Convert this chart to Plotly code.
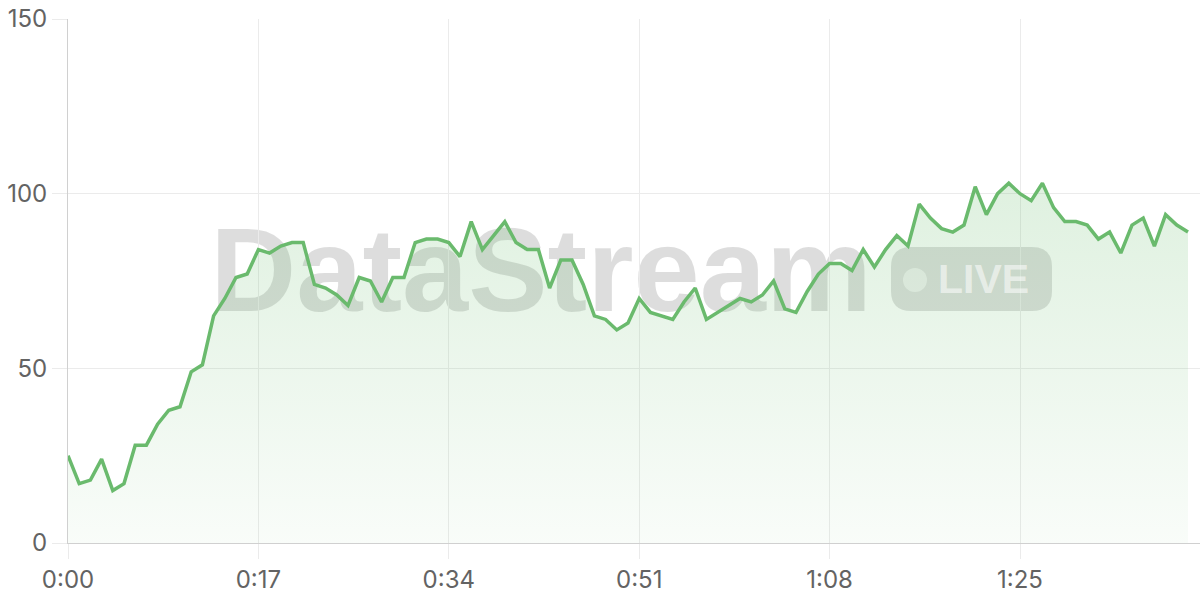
import plotly.graph_objects as go

# Data: one value per second, 0..100 s
seconds = list(range(101))
values = [
    25, 17, 18, 24, 15, 17, 28, 28, 34, 38,
    39, 49, 51, 65, 70, 76, 77, 84, 83, 85,
    86, 86, 74, 73, 71, 68, 76, 75, 69, 76,
    76, 86, 87, 87, 86, 82, 92, 84, 88, 92,
    86, 84, 84, 73, 81, 81, 74, 65, 64, 61,
    63, 70, 66, 65, 64, 69, 73, 64, 66, 68,
    70, 69, 71, 75, 67, 66, 72, 77, 80, 80,
    78, 84, 79, 84, 88, 85, 97, 93, 90, 89,
    91, 102, 94, 100, 103, 100, 98, 103, 96, 92,
    92, 91, 87, 89, 83, 91, 93, 85, 94, 91,
    89,
]
tick_vals = [0, 17, 34, 51, 68, 85]
tick_text = ["0:00", "0:17", "0:34", "0:51", "1:08", "1:25"]
y_ticks = [0, 50, 100, 150]

GREEN = "#6aba6d"
GRID = "#ebebeb"
AXIS = "#d0d0d0"
LABEL = "#636363"
FONT = "Inter, 'Noto Sans', sans-serif"
TICK_SIZE = 24

W, H = 1200, 600
ML, MR, MT, MB = 68, 0, 19, 57
PW, PH = W - ML - MR, H - MT - MB


def px(x):
    return (x - ML) / PW


def py(y):
    return (H - MB - y) / PH


def rounded_rect(x0, y0, x1, y1, r):
    # pixel coords -> paper-coordinate SVG path with rounded corners
    pts = [
        f"M{px(x0 + r)},{py(y0)}",
        f"L{px(x1 - r)},{py(y0)}",
        f"Q{px(x1)},{py(y0)} {px(x1)},{py(y0 + r)}",
        f"L{px(x1)},{py(y1 - r)}",
        f"Q{px(x1)},{py(y1)} {px(x1 - r)},{py(y1)}",
        f"L{px(x0 + r)},{py(y1)}",
        f"Q{px(x0)},{py(y1)} {px(x0)},{py(y1 - r)}",
        f"L{px(x0)},{py(y0 + r)}",
        f"Q{px(x0)},{py(y0)} {px(x0 + r)},{py(y0)}",
        "Z",
    ]
    return " ".join(pts)


fig = go.Figure()
fig.add_trace(go.Scatter(
    x=seconds, y=values, mode="lines",
    line=dict(color=GREEN, width=3.5),
    fill="tozeroy",
    fillgradient=dict(
        type="vertical",
        colorscale=[[0, "rgba(102,187,106,0.04)"], [1, "rgba(102,187,106,0.21)"]],
    ),
    hoverinfo="skip",
))

# Watermark (drawn between gridlines and traces)
fig.add_shape(
    type="rect", xref="paper", yref="paper",
    x0=px(541) - 0.3, x1=px(541) + 0.3, y0=0.542 - 0.12, y1=0.542 + 0.12,
    line=dict(width=0), fillcolor="rgba(0,0,0,0)",
    layer="between",
    label=dict(text="DataStream",
               font=dict(family="'Liberation Sans', Arial, sans-serif", size=119,
                         color="rgba(0,0,0,0.135)", weight=700),
               textposition="middle center"),
)
# LIVE badge
fig.add_shape(
    type="path", xref="paper", yref="paper",
    path=rounded_rect(891, 247, 1052, 311, 20),
    line=dict(width=0), fillcolor="rgba(0,0,0,0.13)",
    layer="between",
)
fig.add_shape(
    type="circle", xref="paper", yref="paper",
    x0=px(903), x1=px(927), y0=py(292), y1=py(268),
    line=dict(width=0), fillcolor="rgba(255,255,255,0.55)",
    layer="between",
)
fig.add_annotation(
    xref="paper", yref="paper",
    x=px(983), y=py(279),
    text="LIVE", showarrow=False,
    font=dict(family="'Liberation Sans', Arial, sans-serif", size=41,
              color="rgba(255,255,255,0.55)", weight=600),
    xanchor="center", yanchor="middle",
)

fig.update_layout(
    width=W, height=H,
    margin=dict(l=ML, r=MR, t=MT, b=MB),
    paper_bgcolor="white", plot_bgcolor="white",
    showlegend=False,
    font=dict(family=FONT, size=TICK_SIZE, color=LABEL),
    xaxis=dict(
        range=[0, PW / 11.2],
        tickvals=tick_vals, ticktext=tick_text,
        showgrid=True, gridcolor=GRID, gridwidth=1,
        ticks="outside", ticklen=15, tickcolor=GRID,
        showline=True, linecolor=AXIS, linewidth=1,
        zeroline=False,
        tickfont=dict(family=FONT, size=TICK_SIZE, color=LABEL),
        fixedrange=True,
    ),
    yaxis=dict(
        range=[0, 150],
        tickvals=y_ticks,
        showgrid=True, gridcolor=GRID, gridwidth=1,
        ticks="outside", ticklen=15, tickcolor=GRID,
        showline=True, linecolor=AXIS, linewidth=1,
        zeroline=False,
        tickfont=dict(family=FONT, size=TICK_SIZE, color=LABEL),
        fixedrange=True,
    ),
)

fig.write_html("out.html", config={"displayModeBar": False},
               post_script="document.body.style.margin='0';document.body.style.overflow='hidden';")
